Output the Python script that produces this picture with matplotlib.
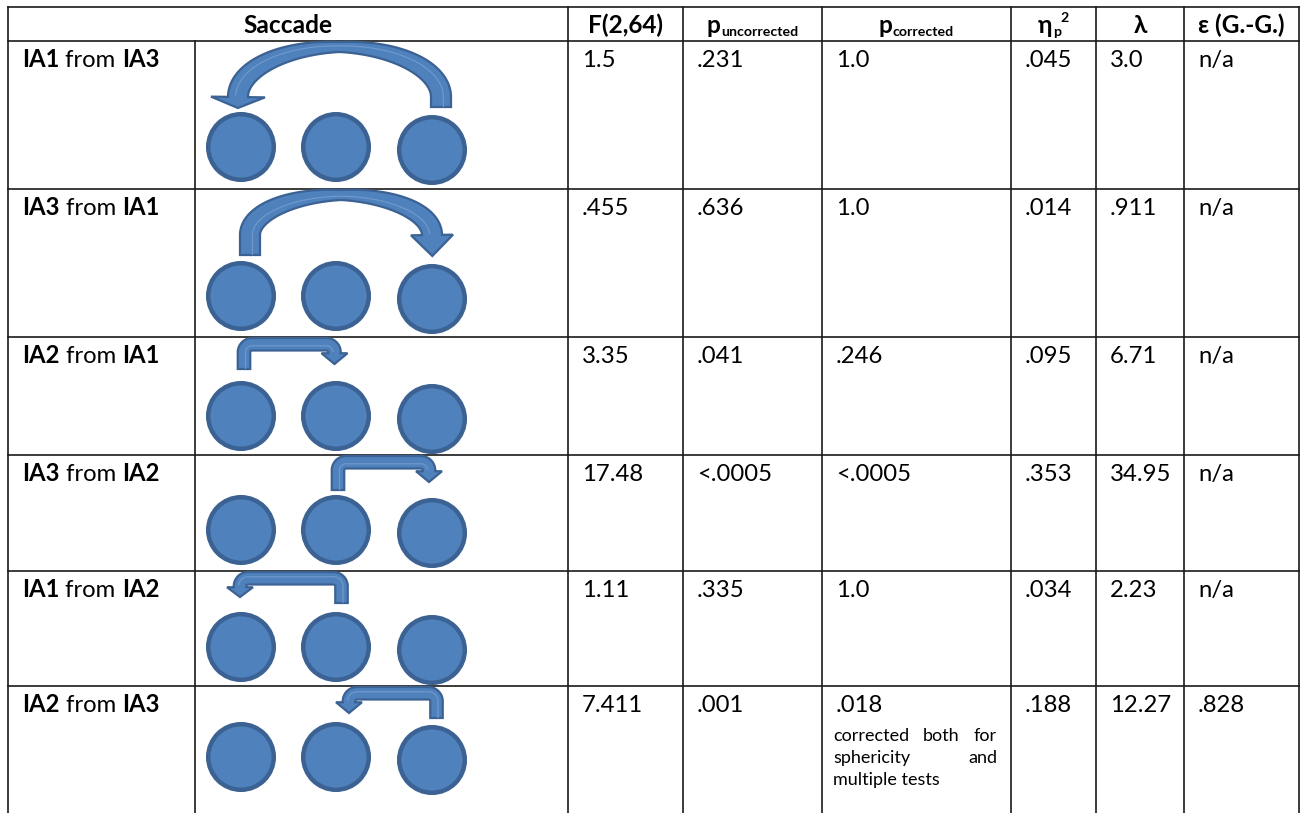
import numpy as np
import matplotlib
matplotlib.use("Agg")
import matplotlib.pyplot as plt
from matplotlib.patches import Circle, Polygon

# ---- table content -------------------------------------------------------
targets = ["IA1", "IA3", "IA2", "IA3", "IA1", "IA2"]
sources = ["IA3", "IA1", "IA1", "IA2", "IA2", "IA3"]
f_vals = ["1.5", ".455", "3.35", "17.48", "1.11", "7.411"]
p_uncorrected = [".231", ".636", ".041", "<.0005", ".335", ".001"]
p_corrected = ["1.0", "1.0", ".246", "<.0005", "1.0", ".018"]
eta_p2 = [".045", ".014", ".095", ".353", ".034", ".188"]
lambdas = ["3.0", ".911", "6.71", "34.95", "2.23", "12.27"]
epsilons = ["n/a", "n/a", "n/a", "n/a", "n/a", ".828"]
note_lines = [["corrected", "both", "for"], ["sphericity", "and"], ["multiple tests"]]

# ---- layout (pixel grid of the page) ---------------------------------------
W, H = 1305, 813
COL_EDGES = [8, 568, 683, 822, 1011, 1096, 1184, 1299]
SACCADE_SPLIT = 195
ROW_EDGES = [7, 41, 189, 337, 455, 571, 686]
TABLE_BOTTOM = 830
CIRCLE_X = [241, 336, 432]
CIRCLE_Y = [147, 296, 416, 530, 647, 757]
CIRCLE_R = 35
THIRD_DROP = 3

# curved arrows: (ellipse base y, outer top, tail bottom, head half width, head tip)
CURVED = {0: (97, 42, 107, 27, 108), 1: (235, 190, 255, 21, 256)}
# bent arrows: (outer top, tail bottom, tail x shift, head x shift, head tip)
BENT = {2: (338, 369, 3, -1.5, 364), 3: (456, 490, 2, -3, 482),
        4: (572, 603, 5.5, -1, 597), 5: (687, 718, 4.5, 13, 713)}

FAM = ["Lato", "DejaVu Sans"]
BODY = 17.2
HEAD = 17.6
SUB = 10.2
SMALL = 13.0
FILL = "#4f81bd"
EDGE = "#3b6292"
LINE = "#1a1a1a"

fig = plt.figure(figsize=(W / 100, H / 100), dpi=100)
ax = fig.add_axes([0, 0, 1, 1])
ax.set_xlim(0, W)
ax.set_ylim(H, 0)
ax.axis("off")
renderer = fig.canvas.get_renderer()


def text_runs(parts, x, y, ha="left"):
    """Lay out (string, size, weight, dy) pieces side by side on one baseline."""
    objs, widths = [], []
    for s, fs, wt, dy in parts:
        t = ax.text(0, 0, s, fontsize=fs, fontweight=wt, family=FAM,
                    va="baseline", ha="left", color="black", zorder=5)
        objs.append((t, dy))
        widths.append(t.get_window_extent(renderer).width)
    x0 = x - sum(widths) / 2 if ha == "center" else x
    for (t, dy), w in zip(objs, widths):
        t.set_position((x0, y + dy))
        x0 += w


def ribbon(pts, widths, head_half, head_len, lw=1.6):
    pts = np.asarray(pts, float)
    widths = np.asarray(widths, float)
    keep = np.r_[True, np.any(np.abs(np.diff(pts, axis=0)) > 1e-9, axis=1)]
    pts, widths = pts[keep], widths[keep]
    tan = np.gradient(pts, axis=0)
    tan /= np.linalg.norm(tan, axis=1)[:, None]
    nrm = np.stack([-tan[:, 1], tan[:, 0]], axis=1)
    a = pts + nrm * widths[:, None] / 2
    b = pts - nrm * widths[:, None] / 2
    pe, te, ne = pts[-1], tan[-1], nrm[-1]
    head = [pe + ne * head_half, pe + te * head_len, pe - ne * head_half]
    poly = np.vstack([a, head, b[::-1]])
    ax.add_patch(Polygon(poly, closed=True, fc=FILL, ec=EDGE, lw=lw,
                         joinstyle="miter", zorder=4))
    # soft highlight running along the band
    hl = pts + nrm * widths[:, None] * 0.12
    ax.plot(hl[:-2, 0], hl[:-2, 1], color="#6f98cc", lw=0.9, zorder=4.5,
            solid_capstyle="butt")


def curved_arrow(x_tail, x_head, y_base, top, tail_bottom, head_half, head_tip,
                 w_side=20, w_top=10):
    cx = (x_tail + x_head) / 2
    rx = abs(x_tail - x_head) / 2
    ry = y_base - (top + w_top / 2)
    th = np.linspace(0, np.pi, 240)
    sgn = 1 if x_tail > x_head else -1
    xs = cx + sgn * rx * np.cos(th)
    ys = y_base - ry * np.sin(th)
    ws = w_top + (w_side - w_top) * np.abs(np.cos(th))
    tail_y = np.linspace(tail_bottom, y_base, 10)
    pts = np.vstack([np.column_stack([np.full(10, x_tail), tail_y]),
                     np.column_stack([xs, ys])])
    widths = np.r_[np.full(10, w_side), ws]
    ribbon(pts, widths, head_half, head_tip - y_base)


def arc(cx, cy, r, a0, a1, n=30):
    a = np.linspace(a0, a1, n)
    return np.column_stack([cx + r * np.cos(a), cy + r * np.sin(a)])


def bent_arrow(x_tail, x_head, top, tail_bottom, head_tip, w=12.5, r=8,
               head_half=13):
    s = 1 if x_head > x_tail else -1
    yc = top + w / 2
    seg1 = np.column_stack([np.full(10, x_tail), np.linspace(tail_bottom, yc + r, 10)])
    a_start = np.pi if s == 1 else 0.0
    c1 = arc(x_tail + s * r, yc + r, r, a_start, a_start + s * np.pi / 2)
    seg2 = np.column_stack([np.linspace(x_tail + s * r, x_head - s * r, 30),
                            np.full(30, yc)])
    c2 = arc(x_head - s * r, yc + r, r, -np.pi / 2, -np.pi / 2 + s * np.pi / 2)
    head_base = yc + r + 1
    seg3 = np.array([[x_head, head_base]])
    pts = np.vstack([seg1, c1, seg2, c2, seg3])
    ribbon(pts, np.full(len(pts), w), head_half, head_tip - head_base)


# ---- grid lines ------------------------------------------------------------
left, right = COL_EDGES[0], COL_EDGES[-1]
for y in ROW_EDGES:
    ax.plot([left, right], [y, y], color=LINE, lw=1.2, zorder=2)
for x in COL_EDGES:
    ax.plot([x, x], [ROW_EDGES[0], TABLE_BOTTOM], color=LINE, lw=1.2, zorder=2)
ax.plot([SACCADE_SPLIT, SACCADE_SPLIT], [ROW_EDGES[1], TABLE_BOTTOM],
        color=LINE, lw=1.2, zorder=2)

# ---- header ----------------------------------------------------------------
hy = 33
centers = [(COL_EDGES[i] + COL_EDGES[i + 1]) / 2 for i in range(len(COL_EDGES) - 1)]
text_runs([("Saccade", HEAD, "bold", 0)], centers[0], hy, "center")
text_runs([("F(2,64)", HEAD, "bold", 0)], centers[1], hy, "center")
text_runs([("p", HEAD, "bold", 0), ("uncorrected", SUB, "bold", 3)], centers[2], hy, "center")
text_runs([("p", HEAD, "bold", 0), ("corrected", SUB, "bold", 3)], centers[3], hy, "center")
text_runs([("η", HEAD, "bold", 0), ("p", SUB, "bold", 3), ("2", SUB, "bold", -11)],
          centers[4], hy, "center")
text_runs([("λ", HEAD, "bold", 0)], centers[5], hy, "center")
text_runs([("ε (G.-G.)", HEAD, "bold", 0)], centers[6], hy, "center")

# ---- body rows -------------------------------------------------------------
columns = [f_vals, p_uncorrected, p_corrected, eta_p2, lambdas, epsilons]
for r in range(len(targets)):
    top = ROW_EDGES[r + 1]
    by = top + 26
    text_runs([(targets[r], BODY, "bold", 0), (" from ", BODY, "normal", 0),
               (sources[r], BODY, "bold", 0)], left + 14, by)
    for c, col in enumerate(columns):
        text_runs([(col[r], BODY, "normal", 0)], COL_EDGES[c + 1] + 14, by)

    # three interest areas
    for k, cx in enumerate(CIRCLE_X):
        cy = CIRCLE_Y[r] + (THIRD_DROP if k == 2 else 0)
        ax.add_patch(Circle((cx, cy), CIRCLE_R - 2.2, fc=FILL, ec=EDGE,
                            lw=3.2, zorder=3))

    src = int(sources[r][-1]) - 1
    tgt = int(targets[r][-1]) - 1
    if r in CURVED:
        yb, tp, tb, hh, tip = CURVED[r]
        curved_arrow(CIRCLE_X[src] + 9, CIRCLE_X[tgt] + (-3 if tgt < src else 0),
                     yb, tp, tb, hh, tip)
    else:
        tp, tb, dxt, dxh, tip = BENT[r]
        bent_arrow(CIRCLE_X[src] + dxt, CIRCLE_X[tgt] + dxh, tp, tb, tip)

# justified note under the last corrected p value
nx0, nx1 = COL_EDGES[3] + 11, COL_EDGES[4] - 14
ny = ROW_EDGES[6] + 55
for words in note_lines:
    objs = [ax.text(0, ny, w_, fontsize=SMALL, family=FAM, va="baseline",
                    ha="left", zorder=5) for w_ in words]
    ws = [o.get_window_extent(renderer).width for o in objs]
    if len(objs) == 1:
        objs[0].set_x(nx0)
    else:
        gap = (nx1 - nx0 - sum(ws)) / (len(objs) - 1)
        x = nx0
        for o, w_ in zip(objs, ws):
            o.set_x(x)
            x += w_ + gap
    ny += 22

fig.savefig("out.png", dpi=100)
